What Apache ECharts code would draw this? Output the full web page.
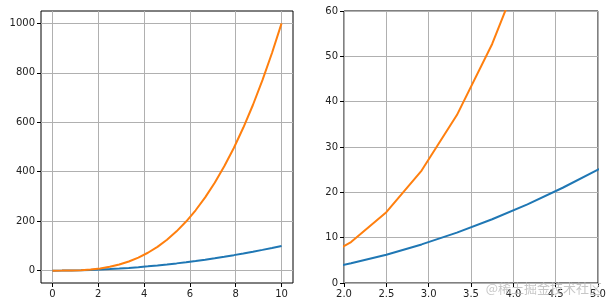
<!DOCTYPE html>
<html><head><meta charset="utf-8">
<script src="https://cdn.jsdelivr.net/npm/echarts@6/dist/echarts.min.js"></script>
<style>html,body{margin:0;padding:0;background:#fff}#c{width:612px;height:307px}</style>
</head><body><div id="c"></div>
<script>
// sample positions (x)
const xValues = [0, 0.4167, 0.8333, 1.25, 1.6667, 2.0833, 2.5, 2.9167, 3.3333, 3.75, 4.1667, 4.5833, 5, 5.4167, 5.8333, 6.25, 6.6667, 7.0833, 7.5, 7.9167, 8.3333, 8.75, 9.1667, 9.5833, 10];
const blueValues = [0, 0.17, 0.69, 1.56, 2.78, 4.34, 6.25, 8.51, 11.11, 14.06, 17.36, 21.01, 25, 29.34, 34.03, 39.06, 44.44, 50.17, 56.25, 62.67, 69.44, 76.56, 84.03, 91.84, 100];
const orangeValues = [0, 0.07, 0.58, 1.95, 4.63, 9.04, 15.63, 24.81, 37.04, 52.73, 72.34, 96.28, 125, 158.9, 198.5, 244.1, 296.3, 355.4, 421.9, 496.1, 578.7, 669.9, 770.3, 880.2, 1000];
const leftXTicks = [0, 2, 4, 6, 8, 10];
const leftYTicks = [0, 200, 400, 600, 800, 1000];
const watermarkText = '@稀土掘金技术社区';

const pairs = (xs, ys) => xs.map((x, i) => [x, ys[i]]);
const font = 'DejaVu Sans';
const gridLine = {show: true, lineStyle: {color: '#b0b0b0', width: 1}};
const tick = {show: true, inside: false, length: 4, lineStyle: {color: '#000', width: 1}};
const label = {color: '#222', fontFamily: font, fontSize: 10, margin: 6, formatter: v => String(v)};
const axisLine = {show: false, onZero: false};

const chart = echarts.init(document.getElementById('c'), null, {renderer: 'canvas'});
chart.setOption({
  animation: false,
  backgroundColor: '#fff',
  grid: [
    {left: 41, top: 11, width: 252, height: 272, show: true, borderColor: '#000', borderWidth: 1, containLabel: false},
    {left: 344, top: 11, width: 254, height: 272, show: true, borderColor: '#000', borderWidth: 1, containLabel: false}
  ],
  xAxis: [
    {type: 'value', gridIndex: 0, min: -0.5, max: 10.5, axisLine,
     axisTick: Object.assign({}, tick, {customValues: leftXTicks}),
     axisLabel: Object.assign({}, label, {customValues: leftXTicks}),
     splitLine: gridLine},
    {type: 'value', gridIndex: 1, min: 2, max: 5, interval: 0.5, axisLine,
     axisTick: tick,
     axisLabel: Object.assign({}, label, {formatter: v => v.toFixed(1), showMinLabel: true, showMaxLabel: true}),
     splitLine: gridLine}
  ],
  yAxis: [
    {type: 'value', gridIndex: 0, min: -50, max: 1050, axisLine,
     axisTick: Object.assign({}, tick, {customValues: leftYTicks}),
     axisLabel: Object.assign({}, label, {customValues: leftYTicks}),
     splitLine: gridLine},
    {type: 'value', gridIndex: 1, min: 0, max: 60, interval: 10, axisLine,
     axisTick: tick,
     axisLabel: Object.assign({}, label, {showMinLabel: true, showMaxLabel: true}),
     splitLine: gridLine}
  ],
  series: [
    {type: 'line', xAxisIndex: 0, yAxisIndex: 0, data: pairs(xValues, blueValues), showSymbol: false, lineStyle: {color: '#1f77b4', width: 2}, clip: true},
    {type: 'line', xAxisIndex: 0, yAxisIndex: 0, data: pairs(xValues, orangeValues), showSymbol: false, lineStyle: {color: '#ff7f0e', width: 2}, clip: true},
    {type: 'line', xAxisIndex: 1, yAxisIndex: 1, data: pairs(xValues, blueValues), showSymbol: false, lineStyle: {color: '#1f77b4', width: 2}, clip: true},
    {type: 'line', xAxisIndex: 1, yAxisIndex: 1, data: pairs(xValues, orangeValues), showSymbol: false, lineStyle: {color: '#ff7f0e', width: 2}, clip: true}
  ],
  graphic: [
    {type: 'text', right: 10, top: 282, z: 100, silent: true,
     style: {text: watermarkText, font: '13px "Noto Sans CJK SC"', fill: 'rgba(185,185,185,0.8)'}}
  ]
});
</script></body></html>
